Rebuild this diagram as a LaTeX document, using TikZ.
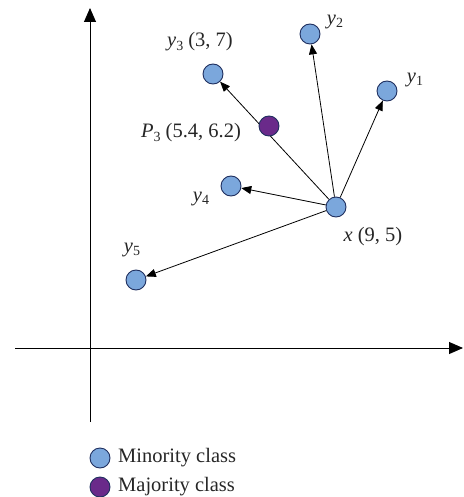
\documentclass[tikz,border=0pt]{standalone}
\usepackage{fontspec}
\setmainfont{Liberation Serif}
\usetikzlibrary{arrows.meta}
\definecolor{ptblue}{HTML}{7BA7DC}
\definecolor{ptedge}{HTML}{1F2F5F}
\definecolor{ptpurple}{HTML}{6A2A8A}
\newcommand{\vsub}[2]{\textit{#1}\raisebox{-0.35ex}{\fontsize{14}{14}\selectfont #2}}
\tikzset{
  minor/.style={circle,draw=ptedge,fill=ptblue,line width=0.9pt,minimum size=20pt,inner sep=0pt},
  major/.style={circle,draw=ptedge,fill=ptpurple,line width=0.9pt,minimum size=20pt,inner sep=0pt},
  lbl/.style={font=\fontsize{20.5}{24}\selectfont,inner sep=0pt,text=black!85},
  link/.style={-{Triangle[length=10pt,width=8pt]},line width=0.8pt},
  axis/.style={-{Triangle[length=14pt,width=12pt]},line width=0.9pt}
}
\begin{document}
\begin{tikzpicture}[x=1pt,y=-1pt]
\useasboundingbox (0,0) rectangle (463,497);
% axes
\coordinate (vb) at (90,422);
\coordinate (vt) at (90,8);
\coordinate (hl) at (15,348);
\coordinate (hr) at (463,348);
\draw[axis] (vb) -- (vt);
\draw[axis] (hl) -- (hr);
% points
\node[minor] (x) at (336,207) {};
\node[minor] (y1) at (387,91) {};
\node[minor] (y2) at (310,34) {};
\node[minor] (y3) at (213,74) {};
\node[minor] (y4) at (231,186) {};
\node[minor] (y5) at (136,280) {};
% connectors
\draw[link] (x) -- (y1);
\draw[link] (x) -- (y2);
\draw[link] (x) -- (y3);
\draw[link] (x) -- (y4);
\draw[link] (x) -- (y5);
\node[major] (p3) at (269,126) {};
% labels
\node[lbl] (ly1) at (415,80) {\vsub{y}{1}};
\node[lbl] (ly2) at (335,22) {\vsub{y}{2}};
\node[lbl] (ly3) at (200,42) {\vsub{y}{3} (3, 7)};
\node[lbl] (lp3) at (191,133) {\vsub{P}{3} (5.4, 6.2)};
\node[lbl] (ly4) at (201,199) {\vsub{y}{4}};
\node[lbl] (ly5) at (132,250) {\vsub{y}{5}};
\node[lbl] (lx) at (373,237) {\textit{x} (9, 5)};
% legend
\node[minor] (lg1) at (100,458) {};
\node[major] (lg2) at (100,487) {};
\node[lbl,anchor=west] (lt1) at (118,458) {Minority class};
\node[lbl,anchor=west] (lt2) at (118,487) {Majority class};
\end{tikzpicture}
\end{document}
